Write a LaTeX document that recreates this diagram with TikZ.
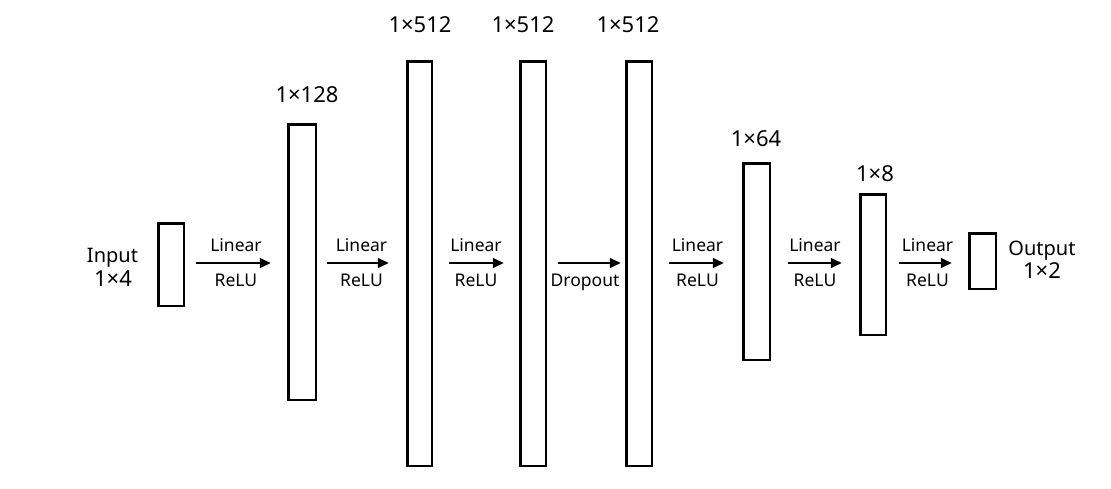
\documentclass[tikz,border=0pt]{standalone}
\usepackage{fontspec}
\setmainfont{Noto Sans}
\usetikzlibrary{arrows.meta}
\begin{document}
\begin{tikzpicture}[x=1pt,y=-1pt,
  layer/.style={draw=black, line width=2.5pt, inner sep=0pt, fill=white},
  arr/.style={line width=1.5pt, -{Triangle[length=11pt,width=10pt]}},
  wordtxt/.style={anchor=base, inner sep=0pt, font=\fontsize{20}{24}\selectfont},
  dimtxt/.style={anchor=base, inner sep=0pt, font=\fontsize{22}{26}\selectfont},
  optxt/.style={anchor=base, inner sep=0pt, font=\fontsize{17.5}{20}\selectfont}]
\useasboundingbox (0,0) rectangle (1111,488);
\fill[white] (0,0) rectangle (1111,488);
\coordinate (ay) at (0,263);
% layers
\node[layer, minimum width=25.5pt, minimum height=82.5pt] (in) at (171,264.5) {};
\node[layer, minimum width=27.5pt, minimum height=275.5pt] (b128) at (302,262) {};
\node[layer, minimum width=24.5pt, minimum height=404.5pt] (b512a) at (419.5,263.5) {};
\node[layer, minimum width=25.5pt, minimum height=404.5pt] (b512b) at (533,263.5) {};
\node[layer, minimum width=25.5pt, minimum height=404.5pt] (b512c) at (639,263.5) {};
\node[layer, minimum width=26.5pt, minimum height=196.5pt] (b64) at (756.5,261.5) {};
\node[layer, minimum width=25.5pt, minimum height=140.5pt] (b8) at (873,264.5) {};
\node[layer, minimum width=26.5pt, minimum height=55.5pt] (out) at (982.5,261) {};
% dimension labels
\node[wordtxt] (lin1) at (112.5,262) {Input};
\node[dimtxt] (lin2) at (113,286) {1×4};
\node[dimtxt] (l128) at (307,102) {1×128};
\node[dimtxt] (l512a) at (420,32) {1×512};
\node[dimtxt] (l512b) at (523,32) {1×512};
\node[dimtxt] (l512c) at (628,32) {1×512};
\node[dimtxt] (l64) at (756,146) {1×64};
\node[dimtxt] (l8) at (875,181) {1×8};
\node[wordtxt] (lout1) at (1042,255) {Output};
\node[dimtxt] (lout2) at (1042,278) {1×2};
% connectors
\draw[arr, shorten <=11.25pt, shorten >=16.25pt] (in.east |- ay) -- (b128.west |- ay)
  node[optxt, pos=0.5, yshift=12pt] {Linear} node[optxt, pos=0.5, yshift=-23pt] {ReLU};
\draw[arr, shorten <=10.25pt, shorten >=17.25pt] (b128.east |- ay) -- (b512a.west |- ay)
  node[optxt, pos=0.5, yshift=12pt] {Linear} node[optxt, pos=0.5, yshift=-23pt] {ReLU};
\draw[arr, shorten <=16.25pt, shorten >=15.25pt] (b512a.east |- ay) -- (b512b.west |- ay)
  node[optxt, pos=0.5, yshift=12pt] {Linear} node[optxt, pos=0.5, yshift=-23pt] {ReLU};
\draw[arr, shorten <=11.25pt, shorten >=4.25pt] (b512b.east |- ay) -- (b512c.west |- ay)
  node[optxt, pos=0.5, xshift=-1pt, yshift=-23pt] {Dropout};
\draw[arr, shorten <=16.25pt, shorten >=18.25pt] (b512c.east |- ay) -- (b64.west |- ay)
  node[optxt, pos=0.5, yshift=12pt] {Linear} node[optxt, pos=0.5, yshift=-23pt] {ReLU};
\draw[arr, shorten <=17.25pt, shorten >=17.25pt] (b64.east |- ay) -- (b8.west |- ay)
  node[optxt, pos=0.5, yshift=12pt] {Linear} node[optxt, pos=0.5, yshift=-23pt] {ReLU};
\draw[arr, shorten <=12.25pt, shorten >=16.25pt] (b8.east |- ay) -- (out.west |- ay)
  node[optxt, pos=0.5, yshift=12pt] {Linear} node[optxt, pos=0.5, yshift=-23pt] {ReLU};
\end{tikzpicture}
\end{document}
